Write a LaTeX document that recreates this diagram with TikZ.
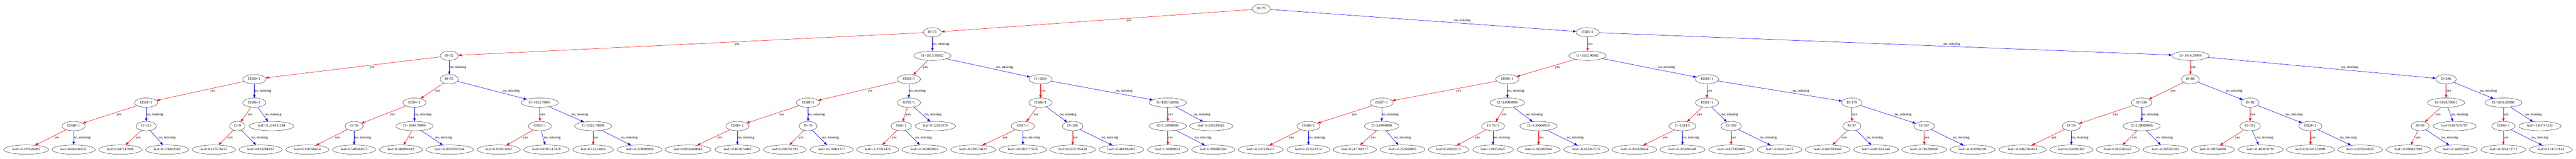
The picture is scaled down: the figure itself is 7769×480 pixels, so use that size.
\documentclass[tikz,border=0pt]{standalone}
\usepackage{fontspec}
\setmainfont{Liberation Serif}
\usetikzlibrary{shapes.geometric,arrows.meta,calc}
\newcommand\yesedge[2]{\draw[yesline] (#1) -- (#2);
  \path let \p1=(#1), \p2=(#2) in node[elabel] at ({0.5*(\x1+\x2)+0.09*abs(\x2-\x1)+0.5pt},{0.5*(\y1+\y2)}) {yes};}
\newcommand\noedge[2]{\draw[noline] (#1) -- (#2);
  \path let \p1=(#1), \p2=(#2) in node[elabel] at ({0.5*(\x1+\x2)+0.09*abs(\x2-\x1)+0.5pt},{0.5*(\y1+\y2)}) {no, missing};}
\begin{document}
\begin{tikzpicture}[x=1pt,y=-1pt,
  every node/.style={font=\fontsize{10.9}{13}\selectfont},
  tnode/.style={ellipse, draw=black!80, line width=0.8pt, inner xsep=6.2pt, inner ysep=2pt,
    minimum width=42pt, minimum height=28pt, text height=7.5pt, text depth=2pt},
  yesline/.style={draw=red, line width=0.9pt, -{Triangle[length=9pt,width=7pt]}},
  noline/.style={draw=blue, line width=0.9pt, -{Triangle[length=9pt,width=7pt]}},
  elabel/.style={anchor=west, inner sep=0pt, text height=7.5pt, text depth=2pt}]
\fill[white] (0,0) rectangle (7769,480);
\useasboundingbox (0,0) rectangle (7769,480);
% level 0
\node[tnode] (r) at (3804,26.7) {f0<79};
% level 1
\node[tnode] (a) at (2812,97.5) {f0<71};
\node[tnode] (b) at (4788,97.5) {f3585<1};
% level 2
\node[tnode] (aa) at (1355,168.3) {f0<32};
\node[tnode] (ab) at (2812,168.3) {f1<1013.90002};
\node[tnode] (ba) at (4788,168.3) {f1<1012.90002};
\node[tnode] (bb) at (6606,168.3) {f1<1014.29999};
% level 3
\node[tnode] (aaa) at (767,239.2) {f3590<1};
\node[tnode] (aab) at (1355,239.2) {f0<55};
\node[tnode] (aba) at (2741,239.2) {f3581<1};
\node[tnode] (abb) at (3138,239.2) {f1<1019};
\node[tnode] (baa) at (4546,239.2) {f3586<1};
\node[tnode] (bab) at (5148,239.2) {f3583<1};
\node[tnode] (bba) at (6606,239.2) {f0<88};
\node[tnode] (bbb) at (7377,239.2) {f3<246};
% level 4
\node[tnode] (aaaa) at (441,310) {f3591<1};
\node[tnode] (aaab) at (767,310) {f2586<1};
\node[tnode] (aaba) at (1250,310) {f3594<1};
\node[tnode] (aabb) at (1628,310) {f1<1012.70001};
\node[tnode] (abaa) at (2437,310) {f3588<1};
\node[tnode] (abab) at (2741,310) {f1785<1};
\node[tnode] (abba) at (3138,310) {f3586<1};
\node[tnode] (abbb) at (3522,310) {f1<1097.69995};
\node[tnode] (baaa) at (4167,310) {f3587<1};
\node[tnode] (baab) at (4546,310) {f2<3.0999999};
\node[tnode] (baba) at (5148,310) {f3581<1};
\node[tnode] (babb) at (5585,310) {f3<179};
\node[tnode] (bbaa) at (6459,310) {f3<330};
\node[tnode] (bbab) at (6786,310) {f0<92};
\node[tnode] (bbba) at (7377,310) {f1<1018.70001};
\node[tnode] (bbbb) at (7550,310) {f1<1016.09998};
% level 5
\node[tnode] (aaaaa) at (222,380.8) {f3588<1};
\node[tnode] (aaaab) at (441,380.8) {f3<115};
\node[tnode] (aaaba) at (716,380.8) {f3<9};
\node[tnode] (aaabb) at (819,380.8) {leaf=-0.219411284};
\node[tnode] (aabaa) at (1068,380.8) {f3<36};
\node[tnode] (aabab) at (1250,380.8) {f1<1009.79999};
\node[tnode] (aabba) at (1628,380.8) {f3595<1};
\node[tnode] (aabbb) at (1789,380.8) {f1<1015.79999};
\node[tnode] (abaaa) at (2224,380.8) {f3580<1};
\node[tnode] (abaab) at (2437,380.8) {f0<76};
\node[tnode] (ababa) at (2718,380.8) {f366<1};
\node[tnode] (ababb) at (2821,380.8) {leaf=0.12203379};
\node[tnode] (abbaa) at (3085,380.8) {f3587<1};
\node[tnode] (abbab) at (3235,380.8) {f3<288};
\node[tnode] (abbba) at (3522,380.8) {f2<5.19999981};
\node[tnode] (abbbb) at (3653,380.8) {leaf=0.230539516};
\node[tnode] (baaaa) at (3946,380.8) {f3588<1};
\node[tnode] (baaab) at (4167,380.8) {f2<6.0999999};
\node[tnode] (baaba) at (4503,380.8) {f1176<1};
\node[tnode] (baabb) at (4640,380.8) {f2<6.30000019};
\node[tnode] (babaa) at (5074,380.8) {f1<1014.5};
\node[tnode] (babab) at (5221,380.8) {f3<339};
\node[tnode] (babba) at (5585,380.8) {f0<87};
\node[tnode] (babbb) at (5803,380.8) {f3<337};
\node[tnode] (bbaaa) at (6247,380.8) {f3<19};
\node[tnode] (bbaab) at (6459,380.8) {f2<2.29999995};
\node[tnode] (bbaba) at (6786,380.8) {f3<351};
\node[tnode] (bbabb) at (6968,380.8) {f2828<1};
\node[tnode] (bbbaa) at (7299,380.8) {f0<99};
\node[tnode] (bbbab) at (7403,380.8) {leaf=0.697076797};
\node[tnode] (bbbba) at (7550,380.8) {f2596<1};
\node[tnode] (bbbbb) at (7660,380.8) {leaf=-1.04747522};
% level 6 leaves
\node[tnode] (aaaaa0) at (79,451.7) {leaf=-0.197624385};
\node[tnode] (aaaaa1) at (222,451.7) {leaf=0.684160531};
\node[tnode] (aaaab0) at (363,451.7) {leaf=0.847517908};
\node[tnode] (aaaab1) at (504,451.7) {leaf=0.378402382};
\node[tnode] (aaaba0) at (645,451.7) {leaf=0.127576455};
\node[tnode] (aaaba1) at (786,451.7) {leaf=0.833294332};
\node[tnode] (aabaa0) at (927,451.7) {leaf=0.138706654};
\node[tnode] (aabaa1) at (1068,451.7) {leaf=0.548582673};
\node[tnode] (aabab0) at (1209,451.7) {leaf=0.360894382};
\node[tnode] (aabab1) at (1356,451.7) {leaf=-0.0197692104};
\node[tnode] (aabba0) at (1504,451.7) {leaf=0.305931062};
\node[tnode] (aabba1) at (1648,451.7) {leaf=0.0297517478};
\node[tnode] (aabbb0) at (1789,451.7) {leaf=0.12224026};
\node[tnode] (aabbb1) at (1929,451.7) {leaf=-0.228099838};
\node[tnode] (abaaa0) at (2075,451.7) {leaf=0.0926488042};
\node[tnode] (abaaa1) at (2224,451.7) {leaf=-0.855074883};
\node[tnode] (abaab0) at (2367,451.7) {leaf=0.299791783};
\node[tnode] (abaab1) at (2508,451.7) {leaf=0.516961277};
\node[tnode] (ababa0) at (2647,451.7) {leaf=-1.23261476};
\node[tnode] (ababa1) at (2788,451.7) {leaf=-0.262883663};
\node[tnode] (abbaa0) at (2935,451.7) {leaf=-0.359576821};
\node[tnode] (abbaa1) at (3085,451.7) {leaf=-0.0382777676};
\node[tnode] (abbab0) at (3235,451.7) {leaf=0.0255795438};
\node[tnode] (abbab1) at (3382,451.7) {leaf=-0.484192491};
\node[tnode] (abbba0) at (3522,451.7) {leaf=1.10809052};
\node[tnode] (abbba1) at (3659,451.7) {leaf=0.288885504};
\node[tnode] (baaaa0) at (3802,451.7) {leaf=-0.137239471};
\node[tnode] (baaaa1) at (3946,451.7) {leaf=0.257623374};
\node[tnode] (baaab0) at (4086,451.7) {leaf=0.247769177};
\node[tnode] (baaab1) at (4230,451.7) {leaf=-0.253588885};
\node[tnode] (baaba0) at (4369,451.7) {leaf=0.20920375};
\node[tnode] (baaba1) at (4503,451.7) {leaf=1.08352637};
\node[tnode] (baabb0) at (4640,451.7) {leaf=0.105092064};
\node[tnode] (baabb1) at (4784,451.7) {leaf=-0.432267576};
\node[tnode] (babaa0) at (4929,451.7) {leaf=-0.203328654};
\node[tnode] (babaa1) at (5074,451.7) {leaf=-0.376090348};
\node[tnode] (babab0) at (5221,451.7) {leaf=-0.673326969};
\node[tnode] (babab1) at (5367,451.7) {leaf=-0.264112473};
\node[tnode] (babba0) at (5512,451.7) {leaf=-0.602393568};
\node[tnode] (babba1) at (5658,451.7) {leaf=-0.407824546};
\node[tnode] (babbb0) at (5803,451.7) {leaf=-0.785289586};
\node[tnode] (babbb1) at (5949,451.7) {leaf=-0.476090103};
\node[tnode] (bbaaa0) at (6100,451.7) {leaf=-0.0462304614};
\node[tnode] (bbaaa1) at (6247,451.7) {leaf=0.254385382};
\node[tnode] (bbaab0) at (6387,451.7) {leaf=0.285505652};
\node[tnode] (bbaab1) at (6531,451.7) {leaf=-0.285591185};
\node[tnode] (bbaba0) at (6674,451.7) {leaf=0.109744288};
\node[tnode] (bbaba1) at (6818,451.7) {leaf=-0.403870791};
\node[tnode] (bbabb0) at (6968,451.7) {leaf=0.00745723909};
\node[tnode] (bbabb1) at (7118,451.7) {leaf=-0.870514035};
\node[tnode] (bbbaa0) at (7264,451.7) {leaf=-0.096837081};
\node[tnode] (bbbaa1) at (7407,451.7) {leaf=-0.56835556};
\node[tnode] (bbbba0) at (7550,451.7) {leaf=-0.505413771};
\node[tnode] (bbbba1) at (7693,451.7) {leaf=0.174717814};
% edges
\yesedge{r}{a} \noedge{r}{b}
\yesedge{a}{aa} \noedge{a}{ab}
\yesedge{b}{ba} \noedge{b}{bb}
\yesedge{aa}{aaa} \noedge{aa}{aab}
\yesedge{ab}{aba} \noedge{ab}{abb}
\yesedge{ba}{baa} \noedge{ba}{bab}
\yesedge{bb}{bba} \noedge{bb}{bbb}
\yesedge{aaa}{aaaa} \noedge{aaa}{aaab}
\yesedge{aab}{aaba} \noedge{aab}{aabb}
\yesedge{aba}{abaa} \noedge{aba}{abab}
\yesedge{abb}{abba} \noedge{abb}{abbb}
\yesedge{baa}{baaa} \noedge{baa}{baab}
\yesedge{bab}{baba} \noedge{bab}{babb}
\yesedge{bba}{bbaa} \noedge{bba}{bbab}
\yesedge{bbb}{bbba} \noedge{bbb}{bbbb}
\yesedge{aaaa}{aaaaa} \noedge{aaaa}{aaaab}
\yesedge{aaab}{aaaba} \noedge{aaab}{aaabb}
\yesedge{aaba}{aabaa} \noedge{aaba}{aabab}
\yesedge{aabb}{aabba} \noedge{aabb}{aabbb}
\yesedge{abaa}{abaaa} \noedge{abaa}{abaab}
\yesedge{abab}{ababa} \noedge{abab}{ababb}
\yesedge{abba}{abbaa} \noedge{abba}{abbab}
\yesedge{abbb}{abbba} \noedge{abbb}{abbbb}
\yesedge{baaa}{baaaa} \noedge{baaa}{baaab}
\yesedge{baab}{baaba} \noedge{baab}{baabb}
\yesedge{baba}{babaa} \noedge{baba}{babab}
\yesedge{babb}{babba} \noedge{babb}{babbb}
\yesedge{bbaa}{bbaaa} \noedge{bbaa}{bbaab}
\yesedge{bbab}{bbaba} \noedge{bbab}{bbabb}
\yesedge{bbba}{bbbaa} \noedge{bbba}{bbbab}
\yesedge{bbbb}{bbbba} \noedge{bbbb}{bbbbb}
\foreach \nd in {aaaaa,aaaab,aaaba,aabaa,aabab,aabba,aabbb,abaaa,abaab,ababa,abbaa,abbab,abbba,
  baaaa,baaab,baaba,baabb,babaa,babab,babba,babbb,bbaaa,bbaab,bbaba,bbabb,bbbaa,bbbba}
  {\yesedge{\nd}{\nd0} \noedge{\nd}{\nd1}}
\end{tikzpicture}
\end{document}
